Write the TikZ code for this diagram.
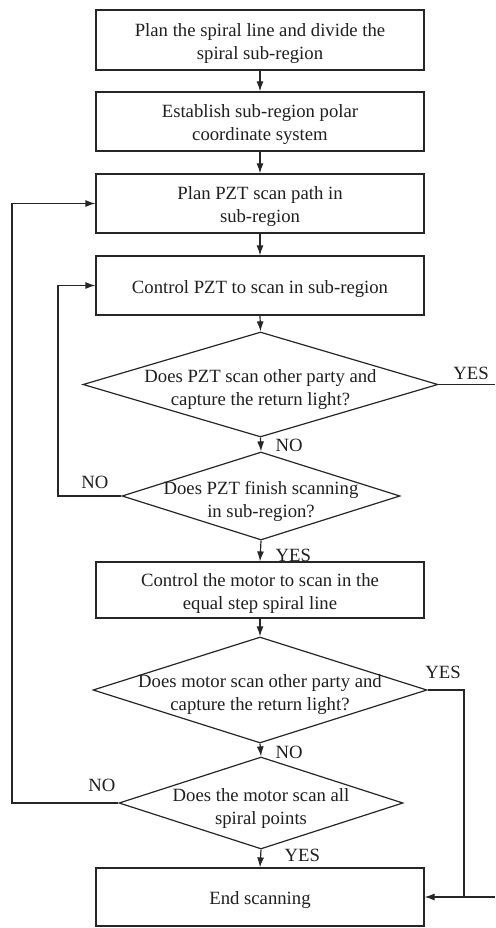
\documentclass[tikz,border=0pt]{standalone}
\usepackage{fontspec}
\setmainfont{Liberation Serif}
\usetikzlibrary{shapes.geometric,arrows.meta}
\begin{document}
\begin{tikzpicture}[x=1pt,y=-1pt,
  line width=1.2pt,
  every node/.style={text=black!88},
  font=\fontsize{18.7}{23}\selectfont,
  procbox/.style={draw=black!85, rectangle, minimum width=328pt, inner sep=0pt, align=center},
  decis/.style={draw=black!85, diamond, inner sep=0pt},
  btext/.style={inner sep=0pt, align=center, yshift=-3.5pt},
  dtext/.style={inner sep=0pt, align=center, yshift=-5pt},
  lbl/.style={inner sep=0pt},
  arr/.style={draw=black!85, -{Latex[length=10pt,width=7pt]}},
  plain/.style={draw=black!85}
]
\useasboundingbox (0,0) rectangle (495,928);

% process boxes
\node[procbox, minimum height=60pt] (b1) at (260,40) {};
\node[btext] (b1t) at (b1.center) {Plan the spiral line and divide the\\spiral sub-region};
\node[procbox, minimum height=59pt] (b2) at (260,121.5) {};
\node[btext] (b2t) at (b2.center) {Establish sub-region polar\\coordinate system};
\node[procbox, minimum height=59pt] (b3) at (260,203.5) {};
\node[btext] (b3t) at (b3.center) {Plan PZT scan path in\\sub-region};
\node[procbox, minimum height=59pt] (b4) at (260,285.5) {};
\node[btext] (b4t) at (b4.center) {Control PZT to scan in sub-region};
\node[procbox, minimum height=56pt] (b5) at (260,590) {};
\node[btext] (b5t) at (b5.center) {Control the motor to scan in the\\equal step spiral line};
\node[procbox, minimum height=58pt] (b6) at (260,897) {};
\node[btext] (b6t) at (b6.center) {End scanning};

% decisions
\node[decis, minimum width=355pt, minimum height=105pt] (d1) at (260.5,384.5) {};
\node[dtext] (d1t) at (d1.center) {Does PZT scan other party and\\capture the return light?};
\node[decis, minimum width=278pt, minimum height=88pt] (d2) at (261,496) {};
\node[dtext] (d2t) at (d2.center) {Does PZT finish scanning\\in sub-region?};
\node[decis, minimum width=334pt, minimum height=106pt] (d3) at (260,690) {};
\node[dtext] (d3t) at (d3.center) {Does motor scan other party and\\capture the return light?};
\node[decis, minimum width=284pt, minimum height=92pt] (d4) at (261,803) {};
\node[dtext] (d4t) at (d4.center) {Does the motor scan all\\spiral points};

% labels
\node[lbl, anchor=west] (l1) at (275,445) {NO};
\node[lbl] (l2) at (471,373) {YES};
\node[lbl] (l3) at (95,482) {NO};
\node[lbl, anchor=west] (l4) at (275,555) {YES};
\node[lbl] (l5) at (443,672) {YES};
\node[lbl, anchor=west] (l6) at (275,752) {NO};
\node[lbl] (l7) at (102,785) {NO};
\node[lbl, anchor=west] (l8) at (284,855) {YES};

% helper coordinates
\coordinate (c1) at (495,384.5);
\coordinate (c2) at (58,0);
\coordinate (c3) at (464,0);
\coordinate (c4) at (12,0);
\coordinate (c5) at (495,897);

% main flow
\draw[arr] (b1.south) -- (b2.north);
\draw[arr] (b2.south) -- (b3.north);
\draw[arr] (b3.south) -- (b4.north);
\draw[arr] (b4.south) -- (d1.north);
\draw[arr] (d1.south) -- (d2.north);
\draw[arr] (d2.south) -- (b5.north);
\draw[arr] (b5.south) -- (d3.north);
\draw[arr] (d3.south) -- (d4.north);
\draw[arr] (d4.south) -- (b6.north);

% side branches
\draw[plain] (d1.east) -- (c1);
\draw[arr] (d2.west) -- (d2.west -| c2) |- (b4.west);
\draw[arr] (d4.west) -- (d4.west -| c4) |- (b3.west);
\draw[arr] (d3.east) -- (d3.east -| c3) |- (b6.east);
\draw[plain] (c5) -- (c5 -| c3);
\end{tikzpicture}
\end{document}
